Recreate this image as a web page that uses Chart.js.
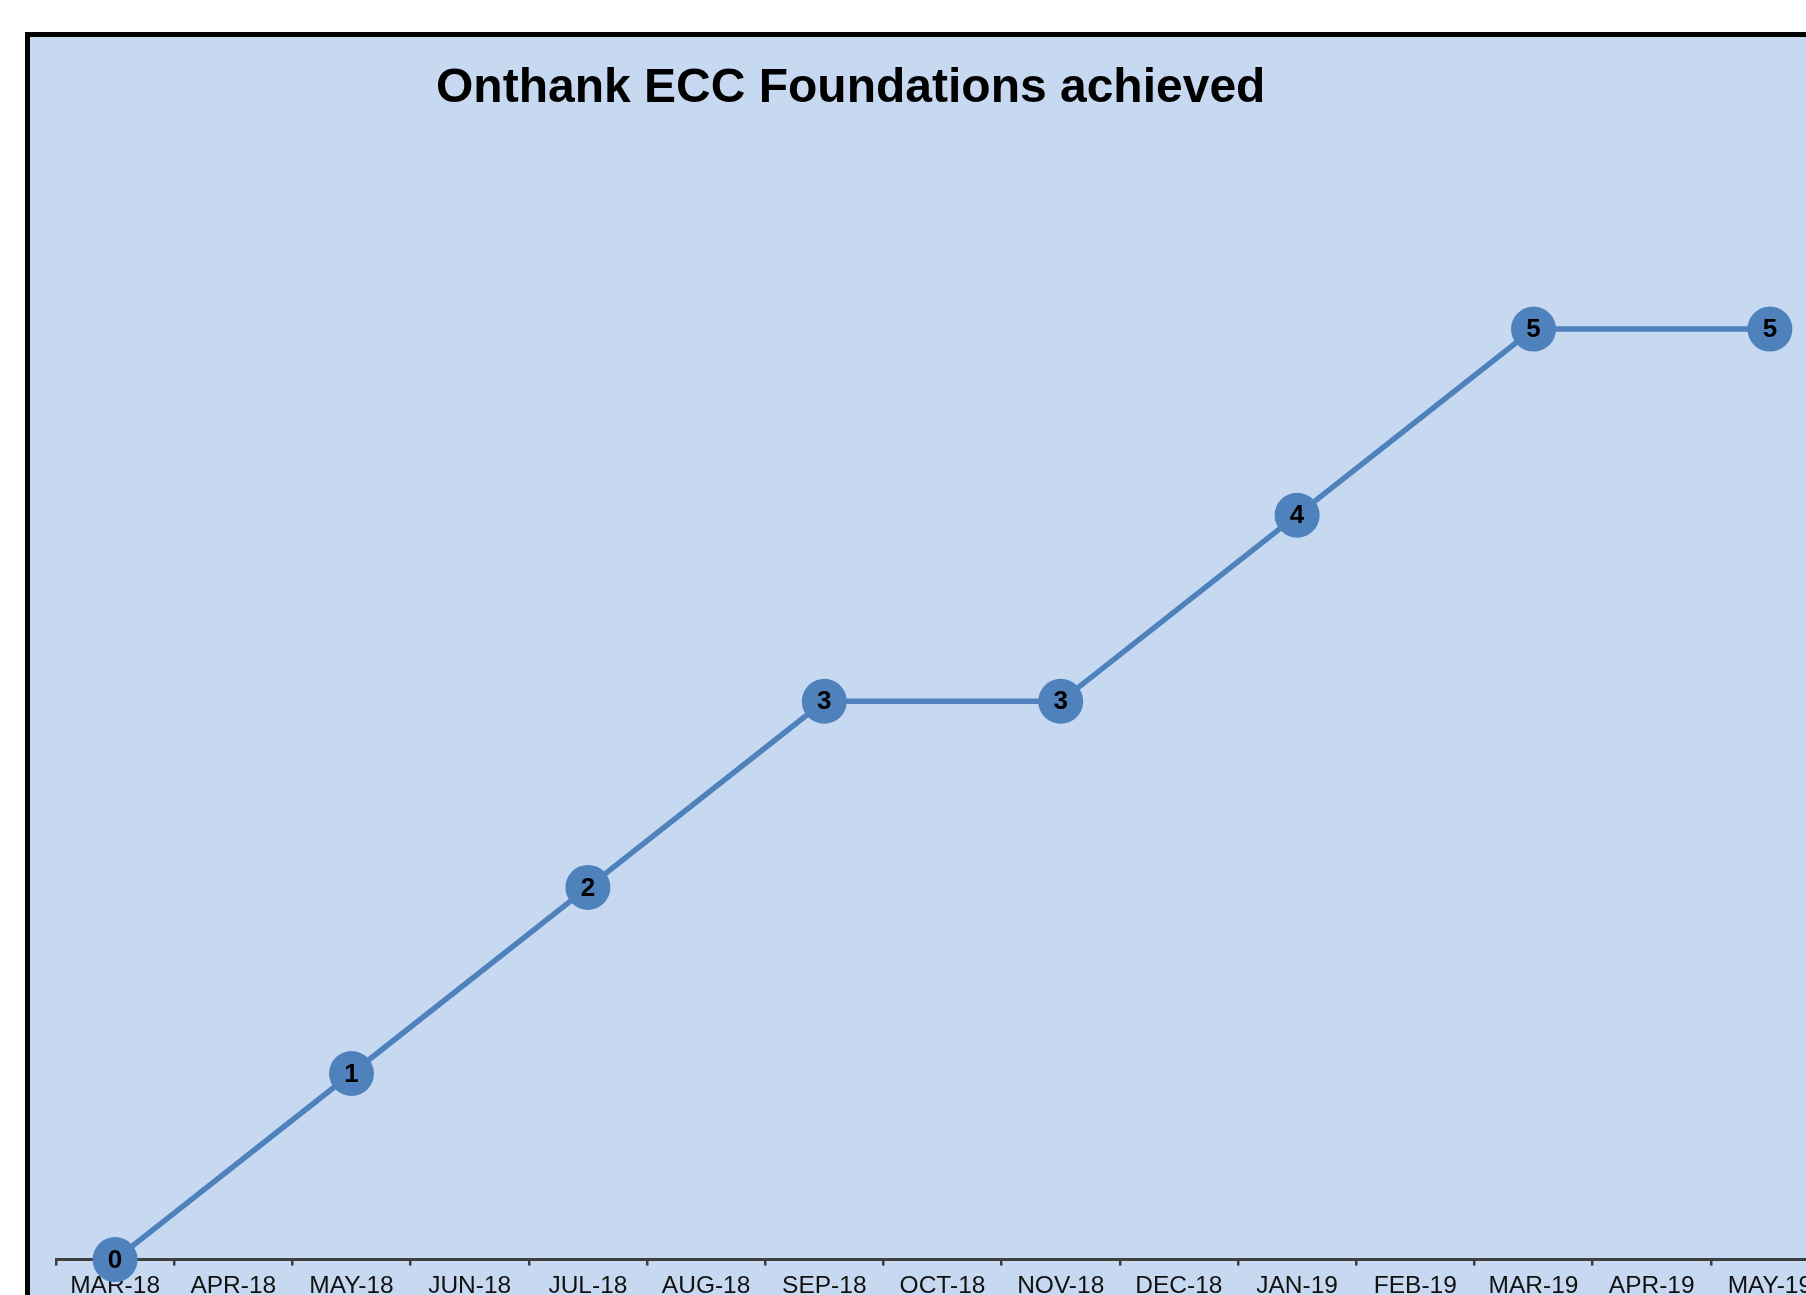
<!DOCTYPE html>
<html>
<head>
<meta charset="utf-8">
<title>Onthank ECC Foundations achieved</title>
<script src="https://cdn.jsdelivr.net/npm/chart.js@4.4.1/dist/chart.umd.min.js"></script>
<style>
    html, body { margin: 0; padding: 0; background: #fff; overflow: hidden; width: 1806px; height: 1295px; }
    #frame { position: absolute; left: 25px; top: 32px; width: 1900px; height: 1320px; border: 5px solid #000; background: #c6d9f0; }
    #title { position: absolute; left: 406px; top: 25px; margin: 0; font: bold 48px "Liberation Sans", Arial, sans-serif; line-height: 48px; white-space: nowrap; color: #000; }
    #chart { position: absolute; left: 0; top: 0; }
</style>
</head>
<body>
<div id="frame">
    <canvas id="chart" width="1900" height="1300"></canvas>
    <h1 id="title">Onthank ECC Foundations achieved</h1>
</div>
<script>
// Foundations achieved, recorded every second month
const months = ['MAR-18', 'APR-18', 'MAY-18', 'JUN-18', 'JUL-18', 'AUG-18', 'SEP-18', 'OCT-18',
    'NOV-18', 'DEC-18', 'JAN-19', 'FEB-19', 'MAR-19', 'APR-19', 'MAY-19'];
const achieved = [0, null, 1, null, 2, null, 3, null, 3, null, 4, null, 5, null, 5];
const yMin = 0;
const yMax = 6;

const lineColor = '#4f81bd';
const axisColor = '#3f3f3f';

// value written in the middle of each marker
const pointValueLabels = {
    id: 'pointValueLabels',
    afterDatasetsDraw(chart) {
        const ctx = chart.ctx;
        const meta = chart.getDatasetMeta(0);
        ctx.save();
        ctx.font = 'bold 26px "Liberation Sans", Arial, sans-serif';
        ctx.fillStyle = '#000';
        ctx.textAlign = 'center';
        ctx.textBaseline = 'middle';
        meta.data.forEach((pt, i) => {
            const v = achieved[i];
            if (v === null || v === undefined) return;
            ctx.fillText(String(v), pt.x, pt.y + 1);
        });
        ctx.restore();
    }
};

const ctx = document.getElementById('chart').getContext('2d');
window.foundationsChart = new Chart(ctx, {
    type: 'line',
    data: {
        labels: months,
        datasets: [{
            label: 'Foundations achieved',
            data: achieved,
            borderColor: lineColor,
            backgroundColor: lineColor,
            borderWidth: 5.5,
            pointRadius: 22.5,
            pointBackgroundColor: lineColor,
            pointBorderColor: lineColor,
            pointBorderWidth: 0,
            tension: 0,
            spanGaps: true,
            clip: false
        }]
    },
    options: {
        responsive: false,
        animation: false,
        layout: {
            padding: { left: 26, right: 101, top: 106, bottom: 30 }
        },
        plugins: {
            legend: { display: false },
            tooltip: { enabled: false },
            title: { display: false }
        },
        scales: {
            x: {
                offset: true,
                grid: {
                    offset: true,
                    drawOnChartArea: false,
                    drawTicks: true,
                    tickLength: 6,
                    lineWidth: 2.5,
                    color: axisColor
                },
                border: { display: true, color: axisColor, width: 3 },
                ticks: {
                    color: '#111',
                    padding: 6,
                    autoSkip: false,
                    maxRotation: 0,
                    font: { family: '"Liberation Sans", Arial, sans-serif', size: 24.5 }
                }
            },
            y: {
                display: false,
                min: yMin,
                max: yMax
            }
        }
    },
    plugins: [pointValueLabels]
});
</script>
</body>
</html>
